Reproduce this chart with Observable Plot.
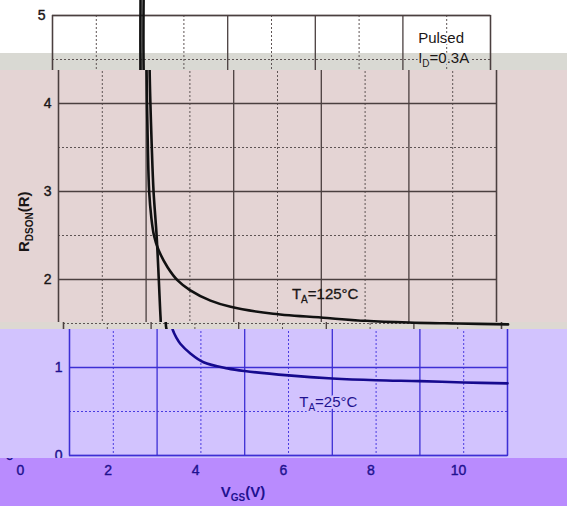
<!DOCTYPE html>
<html><head><meta charset="utf-8">
<script src="https://cdn.jsdelivr.net/npm/d3@7"></script>
<script src="https://cdn.jsdelivr.net/npm/@observablehq/plot@0.6"></script>
<style>
body{margin:0;background:#fff;}
#chart{position:relative;width:567px;height:506px;overflow:hidden;font-family:"Liberation Sans",Arial,sans-serif;}
.band{position:absolute;left:0;width:567px;overflow:hidden;}
.band svg{position:absolute;max-width:none !important;}
</style></head><body><div id="chart"></div>
<script>
// ---- data (VGS in V, RDSON in ohm) ----
const vgs125 = [2.01, 2.01, 2.04, 2.07, 2.12, 2.18, 2.28, 2.49, 2.72, 3.00, 3.47, 3.93, 4.90, 6.20, 7.00, 8.00, 9.00, 10.15];
const rds125 = [5.20, 4.40, 3.50, 3.00, 2.70, 2.50, 2.34, 2.14, 1.99, 1.88, 1.76, 1.69, 1.61, 1.56, 1.53, 1.51, 1.50, 1.49];
const vgs25 = [2.08, 2.08, 2.13, 2.17, 2.24, 2.29, 2.33, 2.35, 2.45, 2.53, 2.76, 3.06, 3.61, 4.00, 5.00, 6.00, 7.00, 8.00, 9.00, 10.00];
const rds25 = [5.20, 4.40, 3.50, 3.00, 2.50, 2.00, 1.57, 1.44, 1.33, 1.27, 1.16, 1.06, 0.99, 0.96, 0.91, 0.875, 0.855, 0.845, 0.83, 0.82];
const xMajor = [0, 2, 4, 6, 8, 10];
const xMinor = [1, 3, 5, 7, 9];
const yMajor = [0, 1, 2, 3, 4, 5];
const yMinor = [0.5, 1.5, 2.5, 3.5, 4.5];
const xTickLabels = [0, 2, 4, 6, 8, 10];
const yTickLabels = [0, 1, 2, 3, 4, 5];
const notes = [
  {x: 8.36, y: 4.68, anchor: "start", main: "Pulsed", sub: "", rest: "", halo: true},
  {x: 8.36, y: 4.455, anchor: "start", main: "I", sub: "D", rest: "=0.3A", halo: true},
  {x: 6.10, y: 1.77, anchor: "middle", main: "T", sub: "A", rest: "=125°C", halo: false},
  {x: 5.92, y: 0.545, anchor: "middle", main: "T", sub: "A", rest: "=25°C", halo: true}
];
const xTitle = {main: "V", sub: "GS", rest: "(V)"};
const yTitle = {main: "R", sub: "DSON", rest: "(R)"};

const c125 = vgs125.map((v, i) => ({v, r: rds125[i]}));
const c25 = vgs25.map((v, i) => ({v, r: rds25[i]}));

// ---- layout ----
const W = 567, H = 506, ML = 60, MR = 69, MT = 15, MB = 51;
const themes = {
  dark: {major: "#4a3f3f", minor: "#5e5454", curve: "#111111", text: "#1a1616"},
  blue: {major: "#3d2fd4", minor: "#4a3ce0", curve: "#160a8e", text: "#1f1290"}
};
const bands = [
  {top: 0, bottom: 53, left: 52, bg: "#ffffff", theme: "dark"},
  {top: 53, bottom: 70, left: 52, bg: "#d9d9d3", theme: "dark"},
  {top: 70, bottom: 322, left: 58, bg: "#e4d4d4", theme: "dark"},
  {top: 322, bottom: 329, left: 63, bg: "#ddd8d2", theme: "dark"},
  {top: 329, bottom: 458, left: 69, bg: "#d2c3fe", theme: "blue"},
  {top: 458, bottom: 506, left: 20, bg: "#b98bfe", theme: "blue"}
];

const hits = (band, y0, y1) => y1 > band.top && y0 < band.bottom;

function addRich(g, x, y, t, opts) {
  const text = g.append("text")
    .attr("x", x).attr("y", y)
    .attr("text-anchor", opts.anchor || "middle")
    .attr("fill", opts.fill)
    .attr("font-size", opts.size)
    .attr("font-weight", opts.bold ? "bold" : "normal")
    .attr("font-family", '"Liberation Sans", Arial, sans-serif');
  if (opts.rotate) text.attr("transform", `rotate(-90,${x},${y})`);
  if (opts.halo) {
    text.attr("stroke", opts.halo).attr("stroke-width", 4).attr("paint-order", "stroke").attr("stroke-linejoin", "round");
  } else if (!opts.bold) {
    text.attr("stroke", opts.fill).attr("stroke-width", 0.3);
  }
  text.append("tspan").text(t.main);
  if (t.sub) {
    text.append("tspan").attr("font-size", opts.subSize).attr("dy", opts.subShift).text(t.sub);
    text.append("tspan").attr("dy", -opts.subShift).text(t.rest);
  } else if (t.rest) {
    text.append("tspan").text(t.rest);
  }
}

function render(band) {
  const th = themes[band.theme];
  const yPix = v => MT + (H - MT - MB) * (1 - v / 5);
  const yTicksHere = yTickLabels.filter(v => hits(band, yPix(v) - 8, yPix(v) + 8));
  const xTicksHere = hits(band, H - MB + 10, H - MB + 21) ? xTickLabels : [];
  const marks = [
    Plot.ruleX(xMinor, {stroke: th.minor, strokeWidth: 1, strokeDasharray: "2,2"}),
    Plot.ruleY(yMinor, {stroke: th.minor, strokeWidth: 1, strokeDasharray: "2,2"}),
    Plot.ruleX(xMajor, {stroke: th.major, strokeWidth: 1.3}),
    Plot.ruleY(yMajor, {stroke: th.major, strokeWidth: 1.3}),
    Plot.frame({stroke: th.major, strokeWidth: 1.3}),
    Plot.line(c125, {x: "v", y: "r", stroke: th.curve, strokeWidth: 2.6, curve: "catmull-rom"}),
    Plot.line(c25, {x: "v", y: "r", stroke: th.curve, strokeWidth: 2.6, curve: "catmull-rom"})
  ];
  const tickText = {fontSize: 14, fill: th.text, color: th.text, tickSize: 0, tickFormat: "d", label: null};
  if (yTicksHere.length) marks.push(Plot.axisY(yTicksHere, {...tickText, tickPadding: 7}));
  if (xTicksHere.length) marks.push(Plot.axisX(xTicksHere, {...tickText, tickPadding: 10}));
  const plot = Plot.plot({
    width: W, height: H, marginLeft: ML, marginRight: MR, marginTop: MT, marginBottom: MB,
    x: {domain: [0, 10], axis: null},
    y: {domain: [0, 5], axis: null},
    style: {background: "transparent", color: th.text, fontSize: "14px", fontFamily: '"Liberation Sans", Arial, sans-serif', overflow: "visible"},
    marks
  });
  // make tick label glyphs as solid and large as the scanned original
  d3.select(plot).selectAll("text")
    .attr("fill", th.text).attr("fill-opacity", 1)
    .attr("stroke", th.text).attr("stroke-width", 0.4).attr("stroke-opacity", 1)
    .style("font-size", "14px");
  const sx = plot.scale("x"), sy = plot.scale("y");
  const g = d3.select(plot).append("g");
  for (const n of notes) {
    const by = sy.apply(n.y);
    if (!hits(band, by - 12, by + 5)) continue;
    addRich(g, sx.apply(n.x), by, n, {
      anchor: n.anchor, fill: th.text, size: 15, subSize: 10, subShift: 4,
      halo: n.halo ? band.bg : null
    });
  }
  const ty = sy.apply(2.65);
  if (hits(band, ty - 5, ty + 5)) addRich(g, ML - 29, ty, yTitle, {fill: th.text, size: 15, subSize: 10, subShift: 4, bold: true, rotate: true});
  const tx = H - MB + 42;
  if (hits(band, tx - 11, tx + 4)) addRich(g, sx.apply(5.09), tx, xTitle, {fill: th.text, size: 15, subSize: 10, subShift: 4, bold: true});
  return plot;
}

const chart = document.getElementById("chart");
for (const b of bands) {
  const div = document.createElement("div");
  div.className = "band";
  div.style.top = b.top + "px";
  div.style.height = (b.bottom - b.top) + "px";
  div.style.background = b.bg;
  const svg = render(b);
  svg.style.left = (b.left - ML) + "px";
  svg.style.top = (-b.top) + "px";
  div.appendChild(svg);
  chart.appendChild(div);
}
</script></body></html>
